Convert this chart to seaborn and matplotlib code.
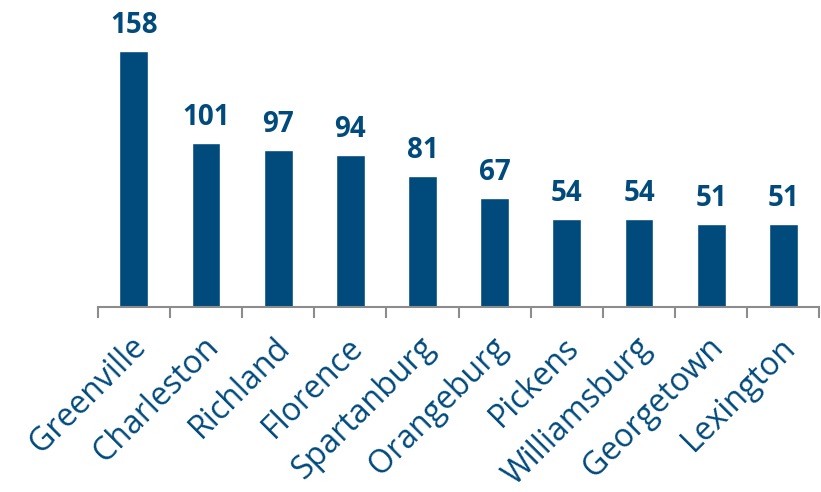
import matplotlib
matplotlib.use("Agg")
import matplotlib.pyplot as plt
import matplotlib.transforms as mtransforms
import numpy as np
import pandas as pd
import seaborn as sns

counties = ["Greenville", "Charleston", "Richland", "Florence", "Spartanburg",
            "Orangeburg", "Pickens", "Williamsburg", "Georgetown", "Lexington"]
counts = [158, 101, 97, 94, 81, 67, 54, 54, 51, 51]

bar_color = "#004A7C"
axis_gray = "#8C8C8C"

sns.set_style("white")
plt.rcParams["font.family"] = ["Open Sans", "DejaVu Sans"]

frame = pd.DataFrame({"county": counties, "count": counts})

fig = plt.figure(figsize=(8.21, 4.92), dpi=100)
ax = fig.add_axes([0.119, 0.376, 0.879, 0.593])
sns.barplot(data=frame, x="county", y="count", color=bar_color, width=0.4,
            saturation=1, ax=ax)

ax.bar_label(ax.containers[0], labels=[str(v) for v in counts], padding=8,
             fontsize=20, fontweight="bold", color=bar_color)

ax.set_xlim(-0.5, len(counties) - 0.5)
ax.set_ylim(0, 180)
ax.set_xlabel("")
ax.set_ylabel("")
ax.set_yticks([])

ax.set_xticks(np.arange(len(counties)))
ax.set_xticklabels(counties, rotation=45, ha="right", va="top",
                   rotation_mode="anchor", fontsize=23, color=bar_color)
ax.tick_params(axis="x", which="major", length=0, pad=17)
# nudge labels a little to the left, like the original
shift = mtransforms.ScaledTranslation(-3 / 72, 0, fig.dpi_scale_trans)
for label in ax.get_xticklabels():
    label.set_transform(label.get_transform() + shift)
ax.set_xticks(np.arange(-0.5, len(counties), 1), minor=True)
ax.tick_params(axis="x", which="minor", length=8, width=1.5, color=axis_gray,
               bottom=True)

for side in ["top", "right", "left"]:
    ax.spines[side].set_visible(False)
ax.spines["bottom"].set_color(axis_gray)
ax.spines["bottom"].set_linewidth(1.5)

fig.savefig("out.png", dpi=100)
